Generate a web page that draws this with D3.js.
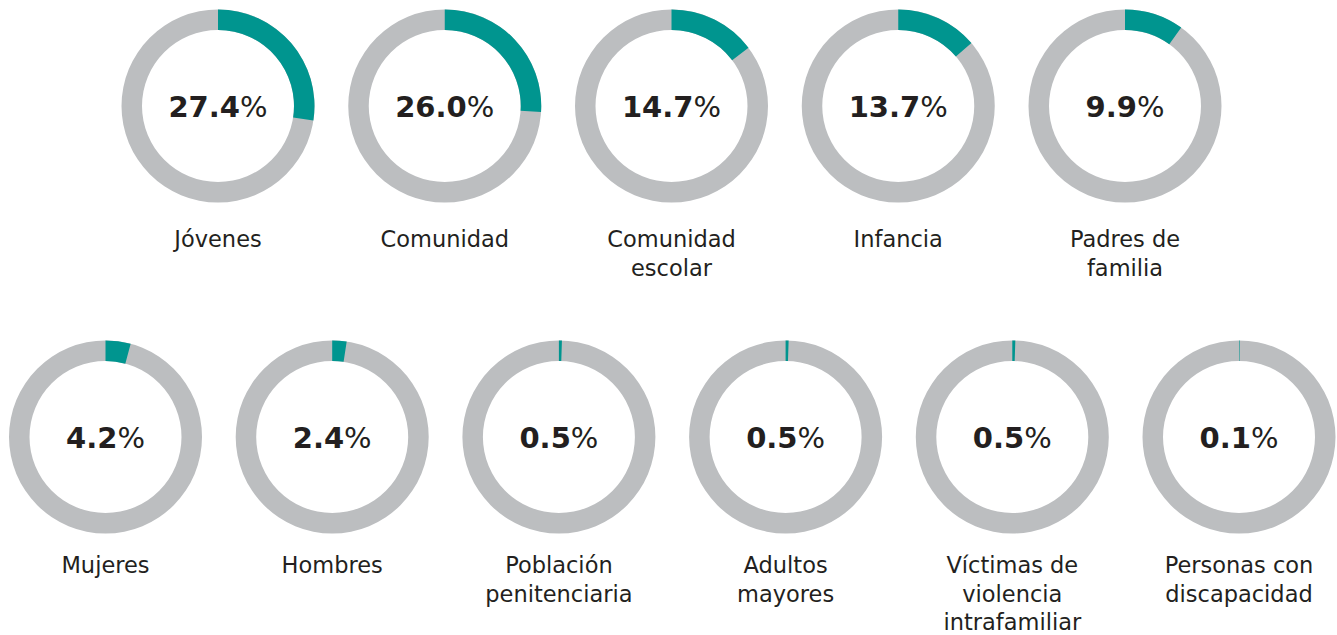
<!DOCTYPE html>
<html><head><meta charset="utf-8">
<script src="https://cdn.jsdelivr.net/npm/d3@7"></script>
<style>body{margin:0;background:#fff}svg{display:block}</style>
</head><body>
<script>
const categories = ["Jóvenes","Comunidad","Comunidad escolar","Infancia","Padres de familia","Mujeres","Hombres","Población penitenciaria","Adultos mayores","Víctimas de violencia intrafamiliar","Personas con discapacidad"];
const labelLines = [["Jóvenes"],["Comunidad"],["Comunidad","escolar"],["Infancia"],["Padres de","familia"],["Mujeres"],["Hombres"],["Población","penitenciaria"],["Adultos","mayores"],["Víctimas de","violencia","intrafamiliar"],["Personas con","discapacidad"]];
const values = [27.4,26.0,14.7,13.7,9.9,4.2,2.4,0.5,0.5,0.5,0.1];
const valueLabels = ["27.4","26.0","14.7","13.7","9.9","4.2","2.4","0.5","0.5","0.5","0.1"];

const W=1337,H=635;
const svg=d3.select("body").append("svg").attr("width",W).attr("height",H);
const row1=[0,1,2,3,4], row2=[5,6,7,8,9,10];
const x1=d3.scalePoint().domain(row1).range([218,1125]);
const x2=d3.scalePoint().domain(row2).range([105.5,1239]);
const yRow=d3.scaleOrdinal().domain([0,1]).range([106,437]);
const angle=d3.scaleLinear().domain([0,100]).range([0,2*Math.PI]);
const arc=d3.arc().innerRadius(76).outerRadius(96.5);

const g=svg.selectAll("g.d").data(values.map((v,i)=>({v,i}))).join("g")
  .attr("transform",d=>{const r=d.i<5?0:1;const x=r===0?x1(d.i):x2(d.i);return `translate(${x},${yRow(r)})`;});
g.append("path").attr("d",arc({startAngle:0,endAngle:2*Math.PI})).attr("fill","#bcbec0");
g.append("path").attr("d",d=>arc({startAngle:0,endAngle:angle(d.v)})).attr("fill","#00958f");
const t=g.append("text").attr("text-anchor","middle").attr("y",11)
  .attr("font-family","DejaVu Sans").attr("font-size",29).attr("fill","#231f20");
t.append("tspan").attr("font-weight","bold").text(d=>valueLabels[d.i]);
t.append("tspan").attr("font-weight","normal").text("%");
g.each(function(d){
  const sel=d3.select(this);
  labelLines[d.i].forEach((ln,k)=>{
    sel.append("text").attr("text-anchor","middle").attr("y",(d.i<5?141:136)+k*28.5)
      .attr("font-family","DejaVu Sans").attr("font-size",22.5).attr("fill","#231f20").text(ln);
  });
});
</script>
</body></html>
